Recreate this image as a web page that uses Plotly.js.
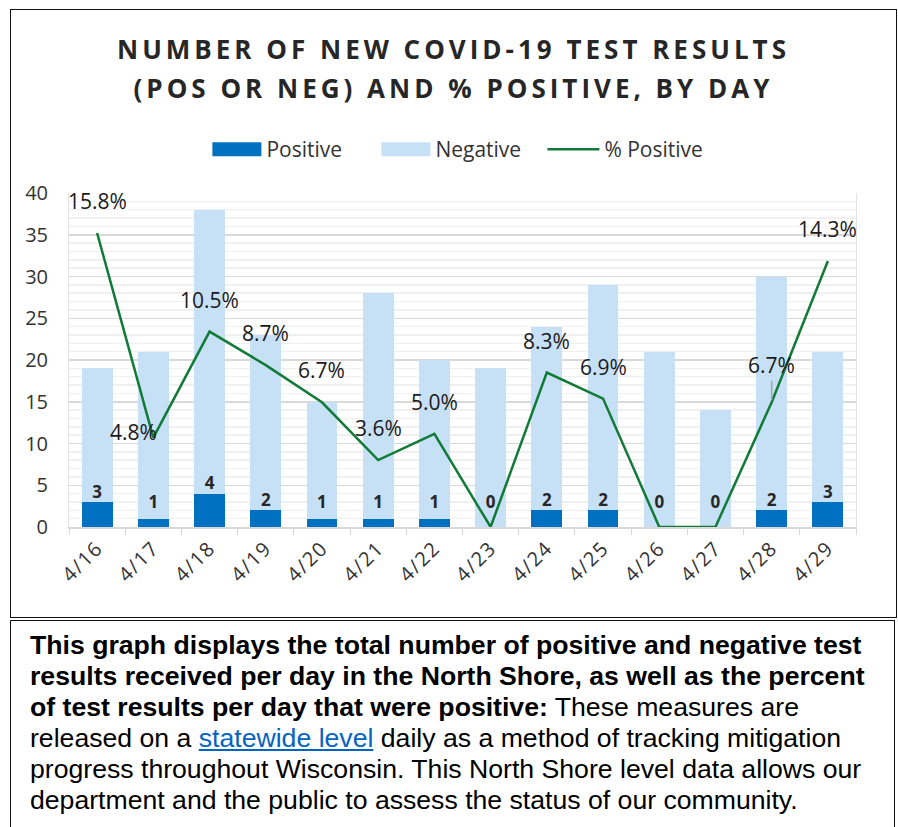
<!DOCTYPE html>
<html>
<head>
<meta charset="utf-8">
<script src="https://cdn.plot.ly/plotly-3.0.1.min.js"></script>
<style>
  body { margin: 0; background: #fff; width: 898px; height: 827px; overflow: hidden; position: relative; }
  #box1 { position: absolute; left: 10px; top: 9px; width: 885px; height: 607px; border: 1.5px solid #111; }
  #chart { width: 885px; height: 607px; }
  #box2 { position: absolute; left: 10px; top: 620px; width: 885px; height: 230px; border: 1.5px solid #111; box-sizing: border-box; }
  #note { position: absolute; left: 19px; top: 9px; font-family: "Liberation Sans", Arial, sans-serif; font-size: 25px; line-height: 31px; color: #000; white-space: nowrap; transform: scaleX(1.065); transform-origin: 0 0; }
  #note a { color: #0563c1; text-decoration: underline; }
  .gtitle { letter-spacing: 4px; }
  .xtick text { letter-spacing: 1.5px; }
</style>
</head>
<body>
<div id="box1"><div id="chart"></div></div>
<div id="box2"><div id="note"><b>This graph displays the total number of positive and negative test<br>results received per day in the North Shore, as well as the percent<br>of test results per day that were positive:</b> These measures are<br>released on a <a href="#">statewide level</a> daily as a method of tracking mitigation<br>progress throughout Wisconsin. This North Shore level data allows our<br>department and the public to assess the status of our community.</div></div>
<script>
const days = ["4/16","4/17","4/18","4/19","4/20","4/21","4/22","4/23","4/24","4/25","4/26","4/27","4/28","4/29"];
const positive = [3,1,4,2,1,1,1,0,2,2,0,0,2,3];
const negative = [16,20,34,21,14,27,19,19,22,27,21,14,28,18];
const pctPositive = [15.8,4.8,10.5,8.7,6.7,3.6,5.0,0,8.3,6.9,0,0,6.7,14.3];

const green = '#117a37';
const traces = [
  { type: 'bar', name: 'Positive', x: days, y: positive, marker: { color: '#0070c0' }, hoverinfo: 'x+y' },
  { type: 'bar', name: 'Negative', x: days, y: negative, marker: { color: '#c6e0f6' }, hoverinfo: 'x+y' },
  { type: 'scatter', mode: 'lines', name: '% Positive', x: days, y: pctPositive, yaxis: 'y2',
    line: { color: green, width: 2.5 } },
  { type: 'scatter', mode: 'text', x: days, y: positive.map(v => Math.max(v, 1.8)),
    text: positive.map(String), textposition: 'top center', showlegend: false, hoverinfo: 'skip',
    textfont: { family: 'Open Sans, sans-serif', size: 17, color: '#262626', weight: 'bold' }, cliponaxis: false }
];

const annotations = days.map((d, i) => {
  if (pctPositive[i] === 0) return null;
  const a = { x: d, y: pctPositive[i], xref: 'x', yref: 'y2', text: pctPositive[i].toFixed(1) + '%',
    showarrow: false, yshift: 32, font: { family: 'Open Sans, sans-serif', size: 21, color: '#1a1a1a' } };
  if (d === '4/17') { a.xshift = -20; a.yshift = 6; }
  if (d === '4/28') { a.showarrow = true; a.ax = 0; a.ay = -37; a.arrowhead = 0; a.arrowwidth = 1.5;
    a.arrowcolor = '#a6a6a6'; a.standoff = 2; delete a.yshift; }
  return a;
}).filter(Boolean);

const layout = {
  width: 885, height: 607,
  margin: { l: 58, r: 40, t: 183, b: 90 },
  paper_bgcolor: '#fff', plot_bgcolor: '#fff',
  barmode: 'stack', bargap: 0.45,
  title: { text: 'NUMBER OF NEW COVID-19 TEST RESULTS<br>(POS OR NEG) AND % POSITIVE, BY DAY',
    font: { family: 'Open Sans, sans-serif', size: 26, color: '#262626', weight: 'bold' },
    x: 0.5, xanchor: 'center', y: 0.92, yanchor: 'top', yref: 'container' },
  showlegend: true,
  legend: { orientation: 'h', x: 0.2, xanchor: 'left', y: 1.13, yanchor: 'middle', traceorder: 'normal',
    font: { family: 'Open Sans, sans-serif', size: 21, color: '#333' }, entrywidth: 124, entrywidthmode: 'pixels' },
  xaxis: { type: 'category', range: [-0.5, days.length - 0.5], tickangle: -45, tickson: 'boundaries', ticks: 'outside', ticklen: 6, automargin: false,
    tickcolor: '#d9d9d9', showline: true, linecolor: '#d9d9d9', linewidth: 1.5, showgrid: false,
    tickfont: { family: 'Open Sans, sans-serif', size: 20, color: '#333' }, fixedrange: true },
  yaxis: { range: [0, 40], dtick: 5, gridcolor: '#d9d9d9', gridwidth: 1.5, showline: true, mirror: true, automargin: false,
    linecolor: '#e3e3e3', zeroline: false, ticks: '', ticklabelstandoff: 16,
    minor: { dtick: 1, showgrid: true, gridcolor: '#f0f0f0', gridwidth: 1.5 },
    tickfont: { family: 'Open Sans, sans-serif', size: 20, color: '#333' }, fixedrange: true },
  yaxis2: { overlaying: 'y', range: [0, 17.95], visible: false, fixedrange: true },
  annotations: annotations
};

function restyleLegendKeys(gd) {
  gd.querySelectorAll('.legend .scrollbox').forEach(s => s.removeAttribute('clip-path'));
  const items = gd.querySelectorAll('.legend .traces');
  items.forEach((g, i) => {
    g.querySelectorAll('path').forEach(p => {
      const d = p.getAttribute('d') || '';
      if (i < 2 && /^M6,6H-6V-6H6Z/.test(d)) p.setAttribute('d', 'M-34,7H15V-7H-34Z');
      if (i === 2 && /^M5,0h30/.test(d)) p.setAttribute('d', 'M-17,0h52');
    });
  });
}

Plotly.newPlot('chart', traces, layout, { displayModeBar: false, staticPlot: true }).then(gd => {
  const lines = gd.querySelectorAll('.gtitle tspan.line');
  if (lines.length > 1) lines[1].setAttribute('dy', '1.5em');
  restyleLegendKeys(gd);
  setTimeout(() => restyleLegendKeys(gd), 50);
});
</script>
</body>
</html>
